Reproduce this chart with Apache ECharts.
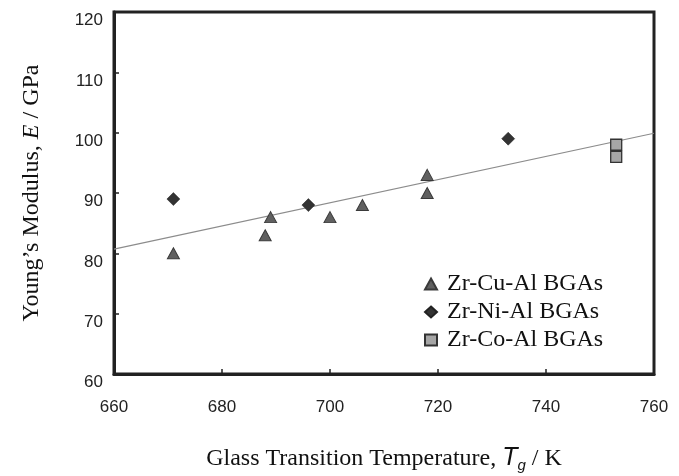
<!DOCTYPE html>
<html>
<head>
<meta charset="utf-8">
<script src="https://cdn.jsdelivr.net/npm/echarts@6/dist/echarts.min.js"></script>
<style>html,body{margin:0;padding:0;background:#fff;}#c{width:679px;height:476px;}</style>
</head>
<body>
<div id="c"></div>
<script>
// Data
var cuAlTg = [671, 688, 689, 700, 706, 718, 718];
var cuAlE  = [80, 83, 86, 86, 88, 93, 90];
var niAlTg = [671, 696, 733];
var niAlE  = [89, 88, 99];
var coAlTg = [753, 753];
var coAlE  = [98, 96];
var fitTg  = [660, 760];
var fitE   = [80.7, 99.9];
var seriesNames = ['Zr-Cu-Al BGAs', 'Zr-Ni-Al BGAs', 'Zr-Co-Al BGAs'];
var xTicks = [660, 680, 700, 720, 740, 760];
var yTicks = [60, 70, 80, 90, 100, 110, 120];

function zip(a, b) { return a.map(function (v, i) { return [v, b[i]]; }); }

var serif = 'Liberation Serif';
var sans = 'Liberation Sans';

var chart = echarts.init(document.getElementById('c'));
chart.setOption({
  animation: false,
  backgroundColor: '#fff',
  grid: { left: 114, right: 25, top: 12, bottom: 102, show: true, borderColor: '#222', borderWidth: 3, backgroundColor: 'transparent', containLabel: false, outerBoundsMode: 'none' },
  legend: {
    orient: 'vertical', left: 419, top: 267, itemGap: 4, itemWidth: 12, itemHeight: 11,
    data: seriesNames,
    textStyle: { fontFamily: serif, fontSize: 24, color: '#111', padding: [0, 0, 0, 5] }
  },
  xAxis: {
    type: 'value', min: xTicks[0], max: xTicks[xTicks.length - 1], interval: 20,
    axisLine: { show: true, lineStyle: { color: '#222', width: 3 } },
    axisTick: { show: true, inside: true, length: 5, lineStyle: { color: '#222', width: 1.5 } },
    splitLine: { show: false },
    axisLabel: { margin: 25, fontFamily: sans, fontSize: 17, color: '#222' },
    name: '{n|Glass Transition Temperature, }{t|T}{s|g}{n| / K}',
    nameLocation: 'middle', nameGap: 69,
    nameTextStyle: {
      rich: {
        n: { fontFamily: serif, fontSize: 24, color: '#111', lineHeight: 28, verticalAlign: 'bottom' },
        t: { fontFamily: sans, fontStyle: 'italic', fontSize: 25, color: '#111', lineHeight: 28, verticalAlign: 'bottom' },
        s: { fontFamily: sans, fontStyle: 'italic', fontSize: 15, color: '#111', lineHeight: 14, verticalAlign: 'bottom', padding: [0, 0, -2, 0] }
      }
    }
  },
  yAxis: {
    type: 'value', min: yTicks[0], max: yTicks[yTicks.length - 1], interval: 10,
    axisLine: { show: true, lineStyle: { color: '#222', width: 3 } },
    axisTick: { show: true, inside: true, length: 5, lineStyle: { color: '#222', width: 1.5 } },
    splitLine: { show: false },
    axisLabel: { margin: 11, fontFamily: sans, fontSize: 17, color: '#222', verticalAlign: 'top' },
    name: '{n|Young\u2019s Modulus, }{i|E}{n| / GPa}',
    nameLocation: 'middle', nameGap: 70, nameRotate: 90,
    nameTextStyle: {
      rich: {
        n: { fontFamily: serif, fontSize: 24, color: '#111' },
        i: { fontFamily: serif, fontStyle: 'italic', fontSize: 24, color: '#111' }
      }
    }
  },
  series: [
    {
      type: 'line', data: zip(fitTg, fitE), showSymbol: false, symbol: 'none', silent: true,
      lineStyle: { color: '#8c8c8c', width: 1.2 }, z: 1
    },
    {
      name: seriesNames[0], type: 'scatter', symbol: 'triangle', symbolSize: [12, 11],
      data: zip(cuAlTg, cuAlE),
      itemStyle: { color: '#606060', borderColor: '#3a3a3a', borderWidth: 1, opacity: 1 }, z: 3
    },
    {
      name: seriesNames[1], type: 'scatter', symbol: 'diamond', symbolSize: [13, 13],
      data: zip(niAlTg, niAlE),
      itemStyle: { color: '#333', borderColor: '#222', borderWidth: 0.5, opacity: 1 }, z: 3
    },
    {
      name: seriesNames[2], type: 'scatter', symbol: 'rect', symbolSize: [11, 11],
      data: zip(coAlTg, coAlE),
      itemStyle: { color: '#a6a6a6', borderColor: '#333', borderWidth: 1.3, opacity: 1 }, z: 3
    }
  ]
});
</script>
</body>
</html>
